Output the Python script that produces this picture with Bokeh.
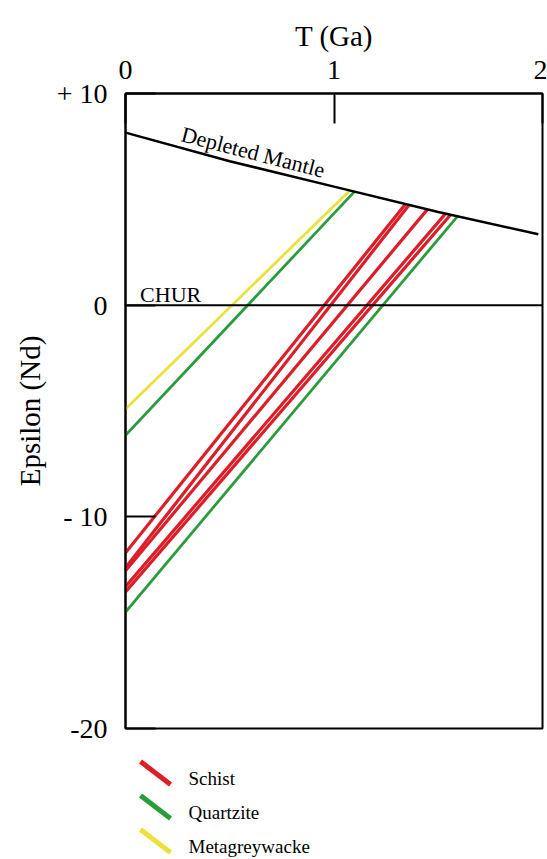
import numpy as np
from bokeh.plotting import figure
from bokeh.models import Range1d, FixedTicker, Label
from bokeh.layouts import column
from bokeh.embed import file_html
from bokeh.resources import INLINE

# ---------------- data ----------------
# Depleted mantle evolution curve
dm_t = [0.0, 0.5, 1.0, 1.5, 1.98]
dm_eps = [8.15, 6.8, 5.6, 4.4, 3.35]

# CHUR reference line
chur_t = [0.0, 2.0]
chur_eps = [0.0, 0.0]

# Samples: present-day epsilon Nd and model age T_DM (Ga)
schist_eps0 = [-11.7, -12.4, -12.55, -13.3, -13.55]
schist_tdm = [1.343, 1.36, 1.448, 1.535, 1.559]

quartzite_eps0 = [-6.15, -14.5]
quartzite_tdm = [1.098, 1.592]

metagreywacke_eps0 = [-4.9]
metagreywacke_tdm = [1.076]

x_ticks = [0, 1, 2]
y_ticks = [-20, -10, 0, 10]
y_tick_labels = ["-20", "- 10", "0", "+ 10"]

legend_names = ["Schist", "Quartzite", "Metagreywacke"]
RED = "#dc1e28"
GREEN = "#2b9c3b"
YELLOW = "#ece13c"
legend_colors = [RED, GREEN, YELLOW]

SERIF = "Liberation Serif"

# ---------------- main plot ----------------
p = figure(width=547, height=745,
           x_range=Range1d(0, 2), y_range=Range1d(-20, 10),
           x_axis_location="above",
           output_backend="svg", toolbar_location=None,
           min_border_left=125, min_border_right=5,
           min_border_top=93, min_border_bottom=17)
p.grid.visible = False
p.background_fill_color = "white"
p.border_fill_color = "white"
p.outline_line_color = "black"
p.outline_line_width = 2
p.outline_line_alpha = 1.0

for ax in (p.xaxis[0], p.yaxis[0]):
    ax.major_tick_in = 30
    ax.major_tick_out = 0
    ax.minor_tick_line_color = None
    ax.major_tick_line_color = "black"
    ax.major_tick_line_width = 2
    ax.axis_line_color = "black"
    ax.axis_line_width = 2
    ax.major_label_text_font = SERIF
    ax.major_label_text_font_size = "28px"
    ax.major_label_text_color = "black"
    ax.axis_label_text_font = SERIF
    ax.axis_label_text_font_size = "29px"
    ax.axis_label_text_font_style = "normal"
    ax.axis_label_text_color = "black"

p.xaxis.ticker = FixedTicker(ticks=x_ticks)
p.xaxis.axis_label = "T (Ga)"
p.xaxis.major_label_standoff = 15
p.xaxis.axis_label_standoff = 6

p.yaxis.ticker = FixedTicker(ticks=y_ticks)
p.yaxis.major_label_overrides = {float(t): s for t, s in zip(y_ticks, y_tick_labels)}
p.yaxis.axis_label = "Epsilon (Nd)"
p.yaxis.major_label_standoff = 18
p.yaxis.axis_label_standoff = 8


def sample_lines(eps0, tdm):
    xs, ys = [], []
    for e, t in zip(eps0, tdm):
        xs.append([0.0, t])
        ys.append([e, float(np.interp(t, dm_t, dm_eps))])
    return xs, ys


for eps0, tdm, col, w in [(metagreywacke_eps0, metagreywacke_tdm, YELLOW, 2.8),
                          (quartzite_eps0, quartzite_tdm, GREEN, 2.8),
                          (schist_eps0, schist_tdm, RED, 3.2)]:
    xs, ys = sample_lines(eps0, tdm)
    p.multi_line(xs, ys, line_color=col, line_width=w)

p.line(chur_t, chur_eps, line_color="black", line_width=2)
p.line(dm_t, dm_eps, line_color="black", line_width=2.5)

p.add_layout(Label(x=0.07, y=0.5, text="CHUR", text_font=SERIF,
                   text_font_size="22px", text_color="black",
                   text_baseline="alphabetic"))
p.add_layout(Label(x=0.27, y=8.1, text="Depleted Mantle", text_font=SERIF,
                   text_font_size="22px", text_color="black",
                   text_baseline="alphabetic", angle=-14.5, angle_units="deg"))

# ---------------- legend (separate strip, frame aligned with the plot frame) ----------------
lg = figure(width=547, height=114, x_range=Range1d(125, 542), y_range=Range1d(114, 0),
            x_axis_location=None, y_axis_location=None,
            output_backend="svg", toolbar_location=None,
            min_border=0, min_border_left=125, min_border_right=5,
            min_border_top=0, min_border_bottom=0)
lg.grid.visible = False
lg.outline_line_color = None
lg.background_fill_color = "white"
lg.border_fill_color = "white"

step = 34
for i, (name, col) in enumerate(zip(legend_names, legend_colors)):
    y0 = 16 + step * i
    lg.segment(x0=[140], y0=[y0], x1=[170], y1=[y0 + 23], line_color=col, line_width=5)
    lg.add_layout(Label(x=188, y=y0 + 17, text=name, text_font=SERIF,
                        text_font_size="19px", text_color="black",
                        text_baseline="middle"))

layout = column(p, lg)
open("out.html", "w").write(file_html(layout, INLINE))
